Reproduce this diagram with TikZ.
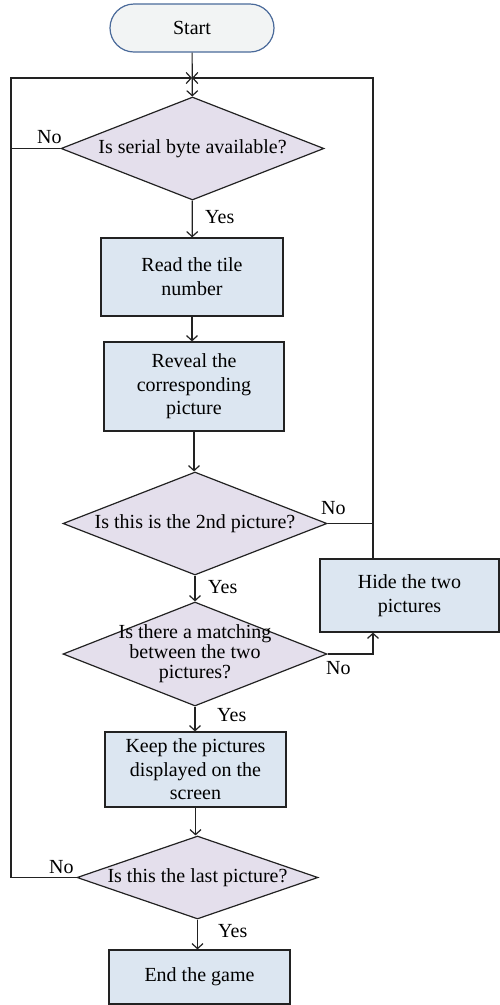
\documentclass[tikz,border=0pt]{standalone}
\usepackage{fontspec}
\setmainfont{Liberation Serif}
\usetikzlibrary{shapes.geometric,arrows.meta}
\definecolor{boxfill}{HTML}{DCE6F1}
\definecolor{diafill}{HTML}{E4DFEC}
\definecolor{startfill}{HTML}{F2F4F4}
\definecolor{startdraw}{HTML}{4A6A9A}
\definecolor{linec}{HTML}{222222}
\begin{document}
\begin{tikzpicture}[x=1pt,y=-1pt, font=\fontsize{20}{24}\selectfont,
  proc/.style={draw=linec, fill=boxfill, line width=1.2pt, rectangle, inner sep=0pt, align=center},
  dec/.style={draw=linec, fill=diafill, line width=1.2pt, diamond, inner sep=0pt},
  conn/.style={draw=linec, line width=1.2pt, -{Straight Barb[length=5pt,width=11pt]}},
  plain/.style={draw=linec, line width=1.2pt},
  lbl/.style={inner sep=0pt, anchor=west}]
\useasboundingbox (0,0) rectangle (499,1005);
\node[draw=startdraw, fill=startfill, line width=1.2pt, rounded corners=24pt, minimum width=164pt, minimum height=48pt, inner sep=0pt] (start) at (192,28) {Start};
\node[dec, minimum width=263pt, minimum height=103pt, label={[align=center]center:Is serial byte available?}] (d1) at (192.5,148.5) {};
\node[proc, minimum width=182pt, minimum height=78pt] (b1) at (192,277) {Read the tile\\number};
\node[proc, minimum width=180pt, minimum height=89pt, font=\fontsize{20}{23.5}\selectfont] (b2) at (194,386.5) {Reveal the\\corresponding\\picture};
\node[dec, minimum width=264pt, minimum height=103pt, label={[align=center]center:Is this is the 2nd picture?}] (d2) at (195,523.5) {};
\node[proc, minimum width=179pt, minimum height=73pt] (hide) at (409.5,595.5) {Hide the two\\pictures};
\node[dec, minimum width=264pt, minimum height=104pt, label={[align=center, font=\fontsize{20}{20}\selectfont]center:Is there a matching\\between the two\\pictures?}] (d3) at (195,654) {};
\node[proc, minimum width=181pt, minimum height=75pt, font=\fontsize{20}{23.5}\selectfont] (b3) at (195.5,769.5) {Keep the pictures\\displayed on the\\screen};
\node[dec, minimum width=241pt, minimum height=83pt, label={[align=center]center:Is this the last picture?}] (d4) at (197.5,877.5) {};
\node[proc, minimum width=181pt, minimum height=54pt] (endb) at (199.5,977) {End the game};
\coordinate (m) at (192,78);
\coordinate (lft) at (11,78);
\coordinate (rgt) at (373,78);
\draw[conn] (start) -- (d1);
\draw[conn] (d1.west) -| (lft) -- (m);
\draw[plain] (d4.west) -| (lft);
\draw[conn] (d2.east) -| (rgt) -- (m);
\draw[plain] (hide.north -| rgt) -- (d2.east -| rgt);
\draw[conn] (d3.east) -| (hide.south -| rgt);
\draw[conn] (d1) -- (b1);
\draw[conn] (b1) -- (b1.south |- b2.north);
\draw[conn] (b2.south) -- (b2.south |- d2.north);
\draw[conn] (d2) -- (d3);
\draw[conn] (d3) -- (d3.south |- b3.north);
\draw[conn] (b3.south) -- (b3.south |- d4.north);
\draw[conn] (d4.south) -- (d4.south |- endb.north);
\node[lbl] (y1) at (205,217) {Yes};
\node[lbl] (y2) at (208,587) {Yes};
\node[lbl] (y3) at (217,715) {Yes};
\node[lbl] (y4) at (218,931) {Yes};
\node[lbl] (n1) at (37,137) {No};
\node[lbl] (n2) at (321,508) {No};
\node[lbl] (n3) at (326,668) {No};
\node[lbl] (n4) at (49,867) {No};
\end{tikzpicture}
\end{document}
